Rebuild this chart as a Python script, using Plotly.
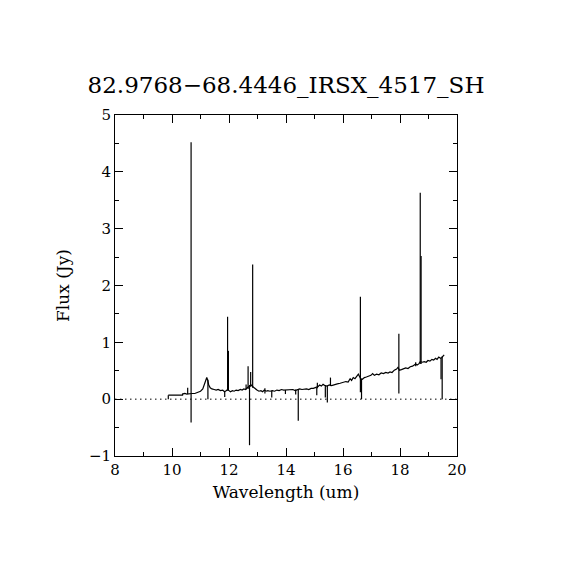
import plotly.graph_objects as go

title_text = "82.9768\u221268.4446_IRSX_4517_SH"

# continuum (wavelength in um, flux in Jy)
cont_wavelength = [
    9.87, 10.37, 10.37, 10.45, 10.52, 10.60, 10.70, 10.80, 10.90, 11.00, 11.08,
    11.14, 11.18, 11.22, 11.25, 11.29, 11.34, 11.40, 11.48, 11.55, 11.62, 11.70,
    11.78, 11.84, 11.90, 11.95, 12.00, 12.05, 12.12, 12.18, 12.25, 12.32, 12.40,
    12.46, 12.52, 12.58, 12.64, 12.70, 12.78, 12.86, 12.92, 12.98, 13.05, 13.12,
    13.18, 13.24, 13.30, 13.36, 13.44, 13.52, 13.60, 13.68, 13.76, 13.84, 13.92,
    14.00, 14.08, 14.16, 14.24, 14.32, 14.40, 14.48, 14.56, 14.64, 14.72, 14.80,
    14.88, 14.96, 15.04, 15.12, 15.18, 15.24, 15.30, 15.36, 15.44, 15.52, 15.60,
    15.70, 15.80, 15.90, 16.00, 16.10, 16.18, 16.25, 16.30, 16.36, 16.42, 16.48,
    16.54, 16.58, 16.62, 16.68, 16.75, 16.82, 16.90, 16.98, 17.04, 17.10, 17.18,
    17.26, 17.34, 17.42, 17.50, 17.58, 17.65, 17.72, 17.80, 17.88, 17.93, 17.98,
    18.05, 18.12, 18.20, 18.28, 18.36, 18.44, 18.50, 18.55, 18.60, 18.66, 18.71,
    18.78, 18.85, 18.92, 18.98, 19.05, 19.12, 19.18, 19.25, 19.30, 19.36, 19.42,
    19.46, 19.50, 19.55,
]
cont_flux = [
    0.07, 0.07, 0.09, 0.10, 0.09, 0.10, 0.10, 0.10, 0.12, 0.14, 0.18,
    0.27, 0.33, 0.38, 0.34, 0.25, 0.20, 0.18, 0.17, 0.16, 0.17, 0.15,
    0.16, 0.13, 0.15, 0.17, 0.15, 0.13, 0.15, 0.14, 0.16, 0.15, 0.17,
    0.16, 0.18, 0.17, 0.20, 0.22, 0.25, 0.21, 0.18, 0.16, 0.14, 0.15,
    0.13, 0.16, 0.14, 0.15, 0.14, 0.15, 0.14, 0.16, 0.15, 0.17, 0.16,
    0.16, 0.17, 0.16, 0.17, 0.15, 0.17, 0.18, 0.17, 0.18, 0.18, 0.17,
    0.19, 0.19, 0.20, 0.22, 0.25, 0.23, 0.26, 0.24, 0.23, 0.25, 0.24,
    0.26, 0.27, 0.28, 0.30, 0.31, 0.30, 0.36, 0.33, 0.38, 0.36, 0.41,
    0.44, 0.40, 0.36, 0.35, 0.38, 0.39, 0.40, 0.42, 0.45, 0.42, 0.44,
    0.43, 0.46, 0.45, 0.47, 0.46, 0.48, 0.47, 0.51, 0.53, 0.56, 0.51,
    0.52, 0.53, 0.55, 0.54, 0.57, 0.58, 0.60, 0.62, 0.60, 0.62, 0.66,
    0.65, 0.66, 0.65, 0.68, 0.67, 0.70, 0.69, 0.72, 0.70, 0.74, 0.72,
    0.73, 0.76, 0.78,
]

# narrow lines / spikes: position, lower end, upper end
spike_wavelength = [
    9.87, 10.55, 10.67, 11.26, 11.85, 11.95, 11.98, 12.60, 12.67, 12.72,
    12.76, 12.83, 13.26, 13.50, 13.98, 14.34, 14.43, 15.08, 15.10, 15.38,
    15.45, 15.56, 16.61, 16.65, 17.96, 18.55, 18.71, 18.74, 19.44, 19.48,
]
spike_low = [
    0.00, 0.09, -0.41, 0.00, 0.04, 0.15, 0.15, 0.17, 0.18, -0.81,
    0.22, 0.20, 0.10, 0.03, 0.09, 0.08, -0.38, 0.07, 0.19, 0.03,
    -0.06, 0.23, 0.12, 0.00, 0.10, 0.58, 0.62, 0.62, 0.35, 0.00,
]
spike_high = [
    0.07, 0.20, 4.52, 0.34, 0.14, 1.45, 0.85, 0.26, 0.58, 0.25,
    0.48, 2.37, 0.19, 0.15, 0.16, 0.17, 0.18, 0.20, 0.29, 0.25,
    0.24, 0.38, 1.80, 0.36, 1.15, 0.65, 3.63, 2.52, 0.72, 0.75,
]

zero_x = [8, 20]
zero_y = [0, 0]

x_ticks = [8, 10, 12, 14, 16, 18, 20]
y_ticks = [-1, 0, 1, 2, 3, 4, 5]

FONT = "DejaVu Serif"

sx, sy = [], []
for w, lo, hi in zip(spike_wavelength, spike_low, spike_high):
    sx += [w, w, None]
    sy += [lo, hi, None]

fig = go.Figure()
fig.add_trace(go.Scatter(x=zero_x, y=zero_y, mode="lines",
                         line=dict(color="black", width=1, dash="1.5px,3.5px"),
                         hoverinfo="skip", showlegend=False))
fig.add_trace(go.Scatter(x=cont_wavelength, y=cont_flux, mode="lines",
                         line=dict(color="black", width=1.2), showlegend=False))
fig.add_trace(go.Scatter(x=sx, y=sy, mode="lines", connectgaps=False,
                         line=dict(color="black", width=1.2), showlegend=False))

axis_common = dict(
    showline=True, linecolor="black", linewidth=1, mirror="allticks",
    ticks="inside", ticklen=8, tickwidth=1, tickcolor="black",
    showgrid=False, zeroline=False,
    tickfont=dict(family=FONT, size=15, color="black"),
)

fig.update_xaxes(range=[8, 20], tickvals=x_ticks,
                 minor=dict(dtick=1, ticks="inside", ticklen=4, tickcolor="black", showgrid=False),
                 title=dict(text="Wavelength (um)", font=dict(family=FONT, size=17, color="black"), standoff=8),
                 **axis_common)
fig.update_yaxes(range=[-1, 5], tickvals=y_ticks,
                 minor=dict(dtick=0.5, ticks="inside", ticklen=4, tickcolor="black", showgrid=False),
                 title=dict(text="Flux (Jy)", font=dict(family=FONT, size=17, color="black"), standoff=14),
                 **axis_common)

fig.update_layout(
    width=570, height=570,
    margin=dict(l=107, r=121, t=107, b=122),
    paper_bgcolor="white", plot_bgcolor="white",
    title=dict(text=title_text, x=(107 + 171) / 570, xanchor="center", y=1 - 77 / 570, yanchor="middle",
               font=dict(family=FONT, size=23, color="black")),
)

fig.write_html("out.html")
